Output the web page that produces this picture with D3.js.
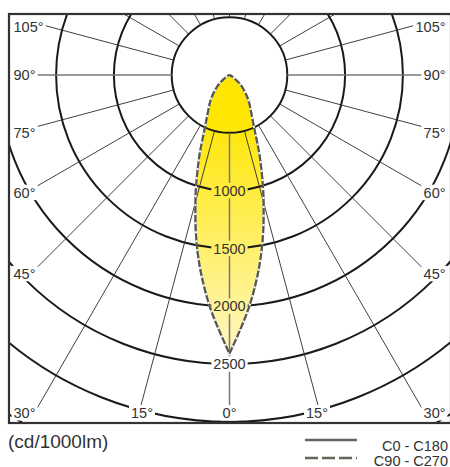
<!DOCTYPE html>
<html>
<head>
<meta charset="utf-8">
<script src="https://cdn.jsdelivr.net/npm/d3@7"></script>
<style>
  body { margin: 0; background: #fff; }
  text { font-family: "Liberation Sans", Arial, sans-serif; fill: #333; }
</style>
</head>
<body>
<svg id="chart" width="450" height="467"></svg>
<script>
// gamma angles (deg from nadir) and intensities (cd/1000lm)
const gammaAngles = [0, 5, 10, 15, 20, 25, 30, 35, 40, 45, 50, 55, 60, 65, 70, 75, 80, 85, 90];
const intensityC0  = [2410, 2000, 1576, 1140, 775, 505, 375, 298, 229, 165, 110, 55, 25, 10, 3, 0, 0, 0, 0];
const intensityC90 = [2410, 2000, 1576, 1140, 775, 505, 375, 298, 229, 165, 110, 55, 25, 10, 3, 0, 0, 0, 0];

const ringValues = [500, 1000, 1500, 2000, 2500, 3000, 3500];
const ringLabels = [1000, 1500, 2000, 2500];
const rayAngles = [0, 15, 30, 45, 60, 75, 90, 105, 120, 135, 150, 165, 180];
const angleLabels = [0, 15, 30, 45, 60, 75, 90, 105];
const unitLabel = "(cd/1000lm)";
const legendNames = ["C0 - C180", "C90 - C270"];

const cx = 229.5, cy = 75;
const frame = {x0: 9, x1: 451, y0: 14, y1: 423};
const textLeft = 13.5, textRight = 445.5, baseMax = 418;
const fs = 14.5, capH = fs * 0.72;

const r = d3.scaleLinear().domain([0, 2500]).range([0, 289]);
const toRad = d => d * Math.PI / 180;
// side -1 = left half (C180 / C270), +1 = right half
const pt = (deg, val, side) => [cx + side * r(val) * Math.sin(toRad(deg)), cy + r(val) * Math.cos(toRad(deg))];

const svg = d3.select("#chart");
const defs = svg.append("defs");

const grad = defs.append("linearGradient").attr("id", "beam")
  .attr("gradientUnits", "userSpaceOnUse")
  .attr("x1", 0).attr("x2", 0).attr("y1", cy + 40).attr("y2", cy + r(2410));
grad.append("stop").attr("offset", 0).attr("stop-color", "#ffe600");
grad.append("stop").attr("offset", 1).attr("stop-color", "#fff7c2");

defs.append("clipPath").attr("id", "frameClip").append("rect")
  .attr("x", frame.x0).attr("y", frame.y0)
  .attr("width", frame.x1 - frame.x0).attr("height", frame.y1 - frame.y0);

const mask = defs.append("mask").attr("id", "labelMask").attr("maskUnits", "userSpaceOnUse")
  .attr("x", 0).attr("y", 0).attr("width", 450).attr("height", 467);
mask.append("rect").attr("x", 0).attr("y", 0).attr("width", 450).attr("height", 467).attr("fill", "#fff");

const plot = svg.append("g").attr("clip-path", "url(#frameClip)");
const fillLayer = plot.append("g");
const grid = plot.append("g").attr("mask", "url(#labelMask)");
const curveLayer = plot.append("g");
const labelLayer = svg.append("g");

// beam fill, each half drawn from nadir so the tip keeps its point
const half = (vals, side) => gammaAngles.map((g, i) => pt(g, vals[i], side));
const line = d3.line().curve(d3.curveCatmullRom.alpha(0.5));
const outline = vals => line(half(vals, 1)) + line(half(vals, -1).reverse()).replace(/^M/, "L") + "Z";
fillLayer.append("path").attr("d", outline(intensityC0)).attr("fill", "url(#beam)");

// rings
grid.selectAll(".ring").data(ringValues).enter().append("circle")
  .attr("cx", cx).attr("cy", cy).attr("r", d => r(d))
  .attr("fill", "none").attr("stroke", "#1a1a1a").attr("stroke-width", 2);

// ring labels on the nadir ray
ringLabels.forEach(v => {
  const t = labelLayer.append("text").text(v)
    .attr("x", cx).attr("y", cy + r(v) + capH / 2)
    .attr("text-anchor", "middle").style("font-size", fs + "px");
  const b = t.node().getBBox();
  mask.append("rect").attr("x", b.x - 2).attr("y", cy + r(v) - capH / 2 - 2.5)
    .attr("width", b.width + 4).attr("height", capH + 5).attr("fill", "#000");
});

// angle labels, ray ends where it meets the label
const rayEnd = {};
angleLabels.forEach(a => [-1, 1].forEach(side => {
  if (a === 0 && side === 1) return;
  const rad = toRad(a);
  const t = labelLayer.append("text").text(a + "\u00b0").style("font-size", fs + "px");
  const w = t.node().getComputedTextLength();
  let x, y, end;
  if (a < 30) {
    y = baseMax - capH / 2;
    x = cx + side * ((y - cy) * Math.tan(rad) - (a ? 3 : 0));
    t.attr("text-anchor", "middle");
    const top = y - capH / 2 - 2.5;
    end = [cx + side * (top - cy) * Math.tan(rad), top];
  } else {
    const edge = side < 0 ? textLeft + w + 2 : textRight - w - 2;
    const ry = cy + Math.abs(edge - cx) / Math.tan(rad);
    x = side < 0 ? textLeft : textRight;
    y = a >= 90 ? ry : ry + 6.5;
    y = Math.max(Math.min(y, baseMax - capH / 2), frame.y0 + 13);
    t.attr("text-anchor", side < 0 ? "start" : "end");
    end = [edge, ry];
  }
  t.attr("x", x).attr("y", y + capH / 2);
  rayEnd[a === 0 ? 0 : a * side] = end;
  const b = t.node().getBBox();
  mask.append("rect").attr("x", b.x - 2).attr("y", y - capH / 2 - 2.5)
    .attr("width", b.width + 4).attr("height", capH + 5).attr("fill", "#000");
}));

// rays from the 500 ring outwards
const rays = [];
rayAngles.forEach(a => [-1, 1].forEach(side => {
  if ((a === 0 || a === 180) && side === 1) return;
  const start = pt(a, 500, side);
  const key = a === 0 ? 0 : a * side;
  const end = rayEnd[key] || pt(a, 5000, side);
  rays.push({a, start, end});
}));
grid.selectAll(".ray").data(rays).enter().append("line")
  .attr("x1", d => d.start[0]).attr("y1", d => d.start[1])
  .attr("x2", d => d.end[0]).attr("y2", d => d.end[1])
  .attr("stroke", d => (d.a === 0 || d.a === 90) ? "#777" : "#2a2a2a")
  .attr("stroke-width", d => (d.a === 0 || d.a === 90) ? 1.5 : 0.9);

// curves
const curveColor = "#55554e";
curveLayer.append("path").attr("d", outline(intensityC0))
  .attr("fill", "none").attr("stroke", curveColor).attr("stroke-width", 2);
curveLayer.append("path").attr("d", outline(intensityC90))
  .attr("fill", "none").attr("stroke", "#fff").attr("stroke-width", 2);
curveLayer.append("path").attr("d", outline(intensityC90))
  .attr("fill", "none").attr("stroke", curveColor).attr("stroke-width", 2.1)
  .attr("stroke-dasharray", "7,2");

// frame
svg.append("rect").attr("x", frame.x0).attr("y", frame.y0)
  .attr("width", frame.x1 - frame.x0).attr("height", frame.y1 - frame.y0)
  .attr("fill", "none").attr("stroke", "#333").attr("stroke-width", 2.2);

// unit label and legend
svg.append("text").text(unitLabel).attr("x", 8).attr("y", 448).style("font-size", "19px");

const legendRows = [{y: 440, base: 451, dash: null}, {y: 458, base: 465.5, dash: "13,4"}];
legendNames.forEach((name, i) => {
  const row = legendRows[i];
  svg.append("line").attr("x1", 305).attr("x2", 357).attr("y1", row.y).attr("y2", row.y)
    .attr("stroke", "#66665c").attr("stroke-width", 2.4)
    .attr("stroke-dasharray", row.dash);
  svg.append("text").text(name).attr("x", 448).attr("y", row.base)
    .attr("text-anchor", "end").style("font-size", "14.5px");
});
</script>
</body>
</html>
